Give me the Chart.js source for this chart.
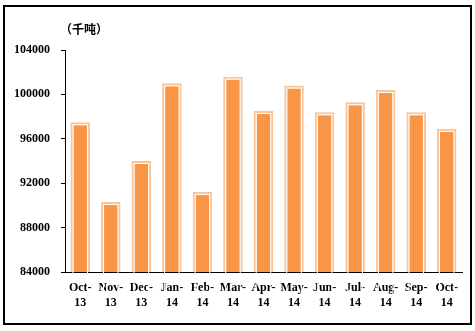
<!DOCTYPE html>
<html>
<head>
<meta charset="utf-8">
<script src="https://cdn.jsdelivr.net/npm/chart.js@4.4.0/dist/chart.umd.min.js"></script>
<style>
  html, body { margin: 0; padding: 0; background: #fff; }
  #wrap { width: 475px; height: 331px; position: relative; }
</style>
</head>
<body>
<div id="wrap"><canvas id="volChart" width="475" height="331"></canvas></div>
<script>
// monthly volume, thousand tonnes
const months = [
  ["Oct-", "13"], ["Nov-", "13"], ["Dec-", "13"], ["Jan-", "14"], ["Feb-", "14"],
  ["Mar-", "14"], ["Apr-", "14"], ["May-", "14"], ["Jun-", "14"], ["Jul-", "14"],
  ["Aug-", "14"], ["Sep-", "14"], ["Oct-", "14"]
];
const volume = [97500, 90300, 94000, 101000, 91200, 101600, 98500, 100800, 98400, 99300, 100400, 98400, 96900];
const yMin = 84000;
const yMax = 104000;
const yStep = 4000;
const unitLabel = "（千吨）";

const labelFont = { family: "'Liberation Serif', 'DejaVu Serif', serif", size: 12, weight: "bold" };

// outer frame + unit caption
const framePlugin = {
  id: "frame",
  beforeDraw(chart) {
    const ctx = chart.ctx;
    ctx.save();
    ctx.fillStyle = "#fff";
    ctx.fillRect(0, 0, chart.width, chart.height);
    ctx.restore();
  },
  afterDraw(chart) {
    const ctx = chart.ctx;
    const area = chart.chartArea;
    ctx.save();
    ctx.strokeStyle = "#000";
    ctx.lineWidth = 2;
    ctx.strokeRect(4, 6, 467, 318);
    ctx.fillStyle = "#000";
    ctx.font = "bold 12px 'Noto Sans CJK SC', sans-serif";
    ctx.textBaseline = "middle";
    ctx.textAlign = "left";
    ctx.fillText(unitLabel, area.left - 5, area.top - 21);
    ctx.restore();
  }
};

// thin white line between the peach border and the orange fill
const innerLinePlugin = {
  id: "innerLine",
  afterDatasetsDraw(chart) {
    const ctx = chart.ctx;
    const meta = chart.getDatasetMeta(0);
    ctx.save();
    ctx.strokeStyle = "#fff";
    ctx.lineWidth = 1;
    meta.data.forEach((bar) => {
      const p = bar.getProps(["x", "y", "base", "width"], true);
      const left = p.x - p.width / 2 + 2.5;
      const top = p.y + 2.5;
      ctx.strokeRect(left, top, p.width - 5, p.base - p.y - 5);
    });
    ctx.restore();
  }
};

new Chart(document.getElementById("volChart"), {
  type: "bar",
  data: {
    labels: months,
    datasets: [
      {
        data: volume,
        backgroundColor: "#F79646",
        borderColor: "#FAC598",
        borderWidth: 3,
        borderSkipped: false,
        barPercentage: 0.64,
        categoryPercentage: 1.0,
      },
    ],
  },
  options: {
    responsive: false,
    animation: false,
    events: [],
    layout: {
      padding: { left: 0, top: 50, right: 13, bottom: 0 },
    },
    plugins: {
      legend: { display: false },
      tooltip: { enabled: false },
    },
    scales: {
      x: {
        grid: { display: false },
        border: { display: true, color: "#000", width: 1 },
        ticks: {
          color: "#000",
          font: labelFont,
          padding: 1,
          maxRotation: 0,
          autoSkip: false,
        },
        afterFit(scale) {
          scale.height = 59;
        },
      },
      y: {
        min: yMin,
        max: yMax,
        grid: {
          drawOnChartArea: false,
          color: "#000",
          tickLength: 4,
        },
        border: { display: true, color: "#000", width: 1 },
        ticks: {
          stepSize: yStep,
          color: "#000",
          font: labelFont,
          padding: 11,
          callback: (v) => String(v),
        },
        afterFit(scale) {
          scale.width = 65;
        },
      },
    },
  },
  plugins: [framePlugin, innerLinePlugin],
});
</script>
</body>
</html>
